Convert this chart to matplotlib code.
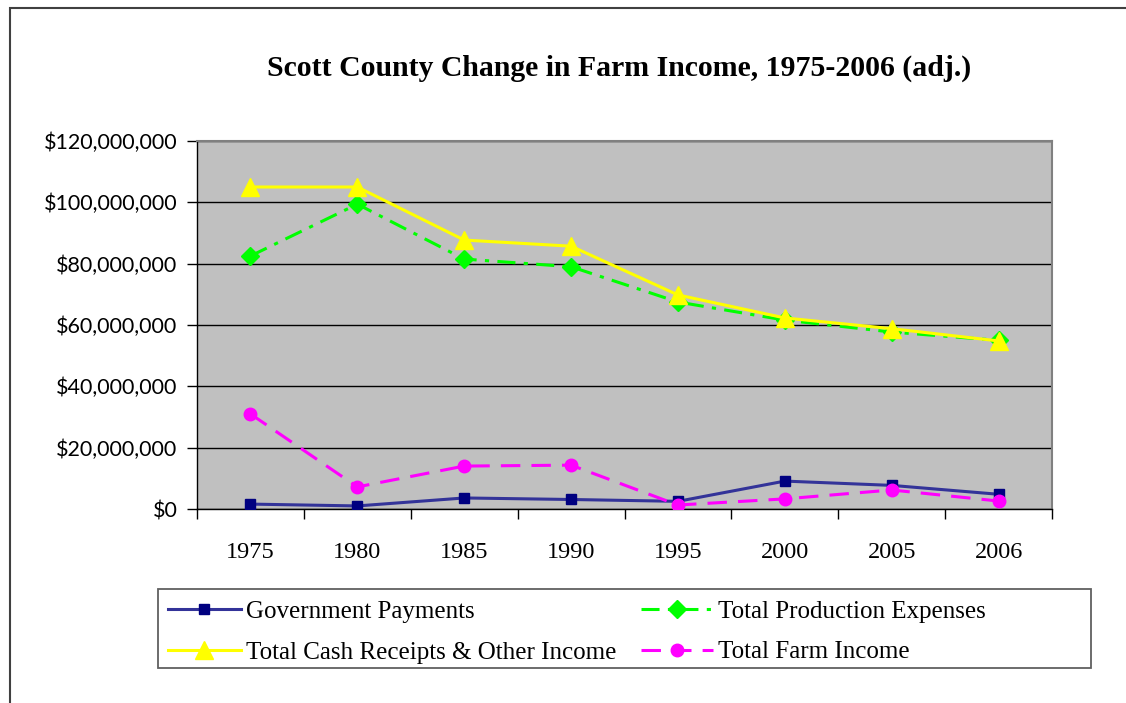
import numpy as np
import matplotlib.pyplot as plt
from matplotlib.patches import Rectangle
from matplotlib.ticker import FuncFormatter, FixedLocator

plt.rcParams['lines.scale_dashes'] = False

years = ['1975', '1980', '1985', '1990', '1995', '2000', '2005', '2006']
gov_payments = [1.6e6, 1.0e6, 3.6e6, 3.1e6, 2.5e6, 9.1e6, 7.7e6, 4.8e6]
prod_expenses = [82.5e6, 99.4e6, 81.5e6, 79.0e6, 67.5e6, 61.6e6, 57.7e6, 55.0e6]
cash_receipts = [105.0e6, 105.0e6, 87.7e6, 85.7e6, 69.8e6, 62.3e6, 58.8e6, 54.8e6]
farm_income = [31.0e6, 7.2e6, 14.0e6, 14.3e6, 1.3e6, 3.3e6, 6.2e6, 2.6e6]
y_ticks = [0, 20e6, 40e6, 60e6, 80e6, 100e6, 120e6]

serif = 'Liberation Serif'
sans = 'Lato'
W, H = 1126, 703

fig = plt.figure(figsize=(W / 100, H / 100), dpi=100)
ax = fig.add_axes([197 / W, 1 - 509 / H, (1052 - 197) / W, (509 - 141) / H])
ax.set_facecolor('#C0C0C0')

x = np.arange(len(years))
ax.plot(x, gov_payments, color='#333399', lw=2.2, marker='s', ms=6.5,
        mfc='#000080', mec='#000080', label='Government Payments', zorder=5)
ax.plot(x, cash_receipts, color='#FFFF00', lw=2.2, marker='^', ms=13,
        mfc='#FFFF00', mec='#FFFF00', label='Total Cash Receipts & Other Income', zorder=4)
ax.plot(x, prod_expenses, color='#00FF00', lw=2.2, ls=(0, (13, 6, 3, 6)), marker='D', ms=9,
        mfc='#00FF00', mec='#00FF00', label='Total Production Expenses', zorder=3)
ax.plot(x, farm_income, color='#FF00FF', lw=2.2, ls=(0, (14, 8)), marker='o', ms=9,
        mfc='#FF00FF', mec='#FF00FF', label='Total Farm Income', zorder=6)

ax.set_xlim(-0.5, len(years) - 0.5)
ax.set_ylim(0, 120e6)

# category boundaries carry the tick marks, centres carry the labels
ax.xaxis.set_major_locator(FixedLocator(np.arange(-0.5, len(years), 1.0)))
ax.xaxis.set_minor_locator(FixedLocator(x))
ax.set_xticklabels([])
ax.set_xticklabels(years, minor=True)
ax.tick_params(axis='x', which='major', direction='out', length=7, width=1, color='black')
ax.tick_params(axis='x', which='minor', length=0, pad=24, labelsize=17.5)
for lbl in ax.get_xticklabels(minor=True):
    lbl.set_family(serif)

ax.set_yticks(y_ticks)
ax.yaxis.set_major_formatter(FuncFormatter(lambda v, p: '${:,.0f}'.format(v)))
ax.tick_params(axis='y', direction='out', length=7, width=1, pad=7, labelsize=15.5)
for lbl in ax.get_yticklabels():
    lbl.set_family(sans)

ax.grid(axis='y', color='black', lw=1)
ax.set_axisbelow(True)
for side in ['top', 'right']:
    ax.spines[side].set_color('#808080')
    ax.spines[side].set_linewidth(1.5)
for side in ['left', 'bottom']:
    ax.spines[side].set_color('black')
    ax.spines[side].set_linewidth(1)

fig.text(0.5 * (268 + 970) / W, 1 - 68 / H,
         'Scott County Change in Farm Income, 1975-2006 (adj.)',
         ha='center', va='center', fontsize=21.4, fontweight='bold', family=serif)

# legend entries without frame; the box is drawn separately so both columns get equal room
h, l = ax.get_legend_handles_labels()
fig.legend(h, l, ncol=2, loc='center left',
           bbox_to_anchor=(168 / W, 1 - 632 / H),
           prop={'family': serif, 'size': 18}, frameon=False,
           handlelength=2.9, columnspacing=1.0, labelspacing=0.72,
           borderpad=0, borderaxespad=0, handletextpad=0.2)
fig.patches.append(Rectangle((158 / W, 1 - 668 / H), (1091 - 158) / W, (668 - 589) / H,
                             transform=fig.transFigure, facecolor='white',
                             edgecolor='#606060', lw=1.3, zorder=0))

# outer chart frame
fig.patches.append(Rectangle((10 / W, -0.1), 2, 1.1 - 8.5 / H, transform=fig.transFigure,
                             fill=False, edgecolor='#404040', lw=1.5))

fig.savefig('out.png', dpi=100)
